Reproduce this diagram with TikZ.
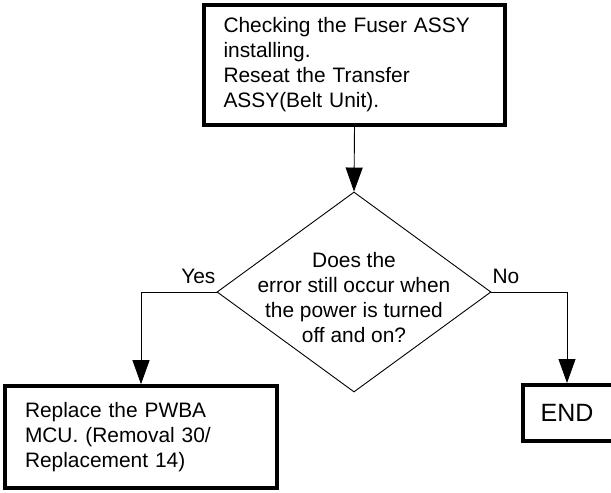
\documentclass[tikz,border=0pt]{standalone}
\usepackage{fontspec}
\setmainfont{Liberation Sans}
\usetikzlibrary{shapes.geometric,arrows.meta,calc}
\begin{document}
\begin{tikzpicture}[x=1pt,y=-1pt,
  every node/.style={font=\fontsize{20.9}{25}\selectfont},
  thickline/.style={line width=3.6pt},
  thickbox/.style={draw,thickline,rectangle,inner ysep=0pt},
  decision/.style={draw,line width=0.9pt,diamond,inner sep=0pt},
  conn/.style={line width=0.9pt,-{Triangle[length=24pt,width=17pt]}},
  lbl/.style={inner sep=0pt}
]
\path[use as bounding box] (0,0) rectangle (611,493);
\clip (0,0) rectangle (611,493);

\node[thickbox,minimum width=301pt,minimum height=120pt,inner xsep=19.5pt,
      text width=262pt,align=left] (top) at (354.5,65)
  {Checking the Fuser ASSY\\installing.\\Reseat the Transfer\\ASSY(Belt Unit).};

\node[decision,minimum width=274pt,minimum height=200pt] (dec) at (354,292) {};
\node[lbl,align=center] (q) at (354,297.5)
  {Does the\\error still occur when\\the power is turned\\off and on?};

\node[thickbox,minimum width=272pt,minimum height=102pt,inner xsep=20pt,
      text width=232pt,align=left] (left) at (141,437)
  {Replace the PWBA\\MCU. (Removal 30/\\Replacement 14)};

\node[rectangle,minimum width=110pt,minimum height=56pt,inner sep=0pt,
      font=\fontsize{25}{30}\selectfont] (endbox) at (578,413)
  {END\hspace*{22pt}};
\draw[thickline] (endbox.north east) -- (endbox.north west)
  -- (endbox.south west) -- (endbox.south east);

\draw[conn] (top.south) -- (dec.north);
\draw[conn] (dec.west) -| (left.north);
\draw[conn] (dec.east) -| ([xshift=-11pt,yshift=1.8pt]endbox.north);

\node[lbl,anchor=base east] (yes) at ($(dec.west)+(-1,-9)$) {Yes};
\node[lbl,anchor=base west] (no) at ($(dec.east)+(1,-9)$) {No};
\end{tikzpicture}
\end{document}
